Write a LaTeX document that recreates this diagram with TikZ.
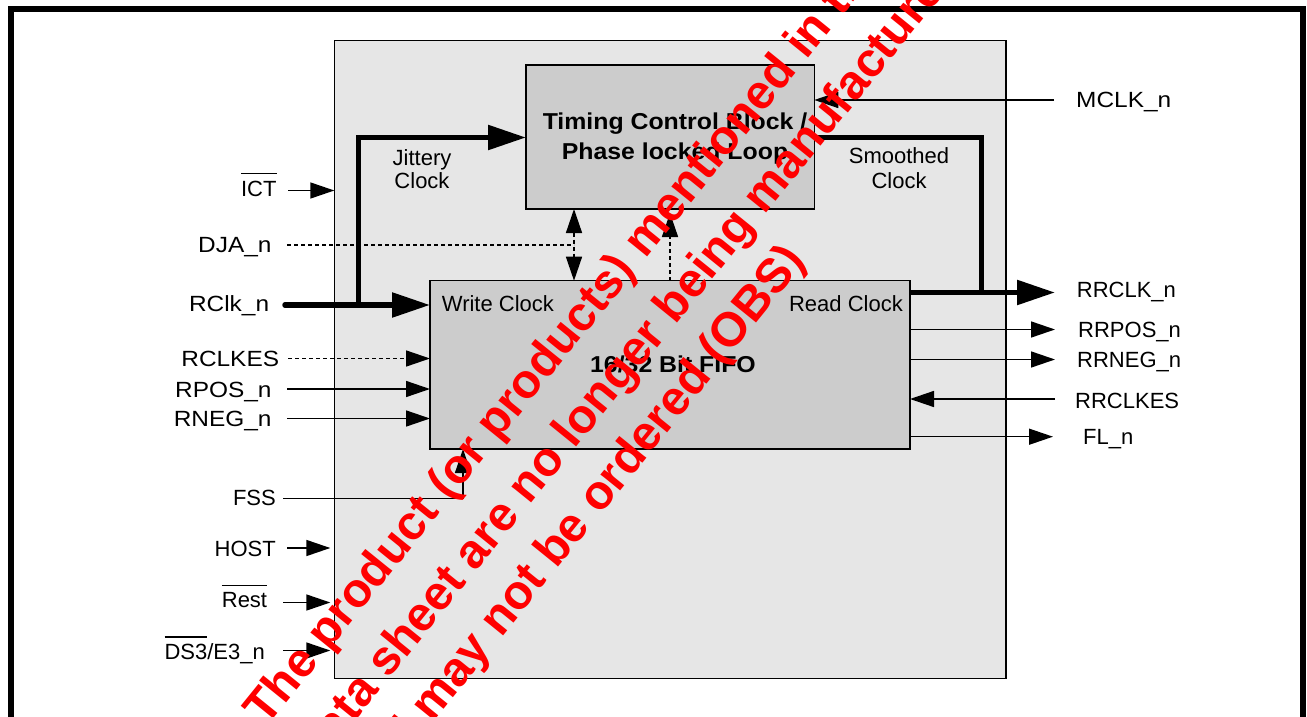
\documentclass[tikz,border=0pt]{standalone}
\usepackage{fontspec}
\setmainfont{Liberation Sans}
\newfontfamily\wfont[FakeStretch=1.11]{Liberation Sans}
\newfontfamily\bfont[FakeStretch=1.08]{Liberation Sans Bold}
\usetikzlibrary{arrows.meta,calc}
\newcommand\olin[1]{\setbox0\hbox{#1}\rlap{\rule[1.0em]{\wd0}{1.4pt}}\box0}
\definecolor{boxouter}{HTML}{E6E6E6}
\definecolor{boxinner}{HTML}{CCCCCC}
\tikzset{
 blk/.style={draw=black, line width=1.5pt, outer sep=0pt, inner sep=0pt, anchor=north west},
 lbl/.style={font=\fontsize{22}{24}\selectfont, inner sep=0pt, text height=15.8pt, text depth=0pt},
 lblw/.style={lbl, font=\wfont\fontsize{22}{24}\selectfont},
 bld/.style={font=\bfont\fontsize{23}{26}\selectfont, inner sep=0pt, text height=16.5pt, text depth=0pt},
 sig/.style={line width=1.5pt, -{Triangle[length=24pt,width=16pt]}},
 sigd/.style={sig, dash pattern=on 4pt off 3pt},
 dashl/.style={line width=1.5pt, dash pattern=on 4pt off 3pt},
 bus/.style={line width=5.5pt, -{Triangle[length=38pt,width=24pt]}},
 wm/.style={font=\fontsize{48}{52}\selectfont\bfseries, text=red, rotate=51, anchor=base west, inner sep=0pt},
}
\begin{document}
\begin{tikzpicture}[x=1pt,y=-1pt]
\useasboundingbox (0,0) rectangle (1307,717);
\clip (0,0) rectangle (1307,717);
\fill[white] (0,0) rectangle (1307,717);
% outer frame
\draw[line width=6pt] (11,740) -- (11,9) -- (1303,9) -- (1303,740);
% blocks
\node[blk, fill=boxouter, minimum width=671.7pt, minimum height=637.6pt] (main) at (334.3,40.7) {};
\node[blk, fill=boxinner, minimum width=288.3pt, minimum height=144pt] (timing) at (526,65) {};
\node[blk, fill=boxinner, minimum width=480pt, minimum height=168.3pt] (fifo) at (430,280.7) {};
% block texts
\node[bld] (tc1) at (675,121.7) {Timing Control Block /};
\node[bld] (tc2) at (675,151.7) {Phase locked Loop};
\node[bld] (ff) at (673,364.3) {16/32 Bit FIFO};
\node[lbl, anchor=west] (wc) at (441.7,303.3) {Write Clock};
\node[lbl, anchor=east] (rc) at (903,303.3) {Read Clock};
\node[lbl] (jit1) at (422,157.3) {Jittery};
\node[lbl] (jit2) at (422,180.5) {Clock};
\node[lbl] (sm1) at (899,155.5) {Smoothed};
\node[lbl] (sm2) at (899,180.5) {Clock};
% left labels
\node[lbl, anchor=east] (ict) at (276.7,188.3) {\olin{ICT}};
\node[lblw, anchor=east] (dja) at (271.7,245) {DJA\_n};
\node[lblw, anchor=east] (rclk) at (269.3,303.3) {RClk\_n};
\node[lblw, anchor=east] (rclkes) at (279.3,359) {RCLKES};
\node[lblw, anchor=east] (rpos) at (271.7,389.3) {RPOS\_n};
\node[lblw, anchor=east] (rneg) at (271.7,418.3) {RNEG\_n};
\node[lbl, anchor=east] (fss) at (276,497.7) {FSS};
\node[lbl, anchor=east] (host) at (276,549) {HOST};
\node[lbl, anchor=east] (rest) at (267.3,600) {\olin{Rest}};
\node[lbl, anchor=east] (ds3) at (265,651.7) {\olin{DS3}/E3\_n};
% right labels
\node[lblw, anchor=west] (mclk) at (1076,100) {MCLK\_n};
\node[lbl, anchor=west] (rrclk) at (1076.7,290) {RRCLK\_n};
\node[lbl, anchor=west] (rrpos) at (1078,330) {RRPOS\_n};
\node[lbl, anchor=west] (rrneg) at (1077,360) {RRNEG\_n};
\node[lbl, anchor=west] (rrclkes) at (1075,401) {RRCLKES};
\node[lbl, anchor=west] (fl) at (1083,437) {FL\_n};
% helper coordinates
\coordinate (rclkS) at (285,305);
\coordinate (jitB) at (358.5,307.5);
\coordinate (jitT) at (358.5,137.5);
\coordinate (smT) at (981.5,137.5);
\coordinate (smB) at (981.5,295);
\coordinate (rrclkE) at (1055,292.5);
\coordinate (mclkS) at (1054,100);
\coordinate (ictS) at (288,190.5);
\coordinate (djaS) at (287,245);
\coordinate (djaE) at (574,245);
\coordinate (colA) at (574,0);
\coordinate (colB) at (670,0);
\coordinate (colF) at (463,0);
\coordinate (rclkesS) at (288,358.5);
\coordinate (rposS) at (287,389);
\coordinate (rnegS) at (287,418.5);
\coordinate (fssS) at (283,498.3);
\coordinate (hostS) at (287,548);
\coordinate (restS) at (283,602.5);
\coordinate (dsS) at (283,650.5);
\coordinate (rrposE) at (1055,329.5);
\coordinate (rrnegE) at (1055,359.5);
\coordinate (rrclkesS) at (1055,399);
\coordinate (flE) at (1053,436.7);
% thick clock paths
\draw[bus, line cap=round] (rclkS) -- (fifo.west |- rclkS);
\draw[bus] (jitB) -- (jitT) -- (timing.west |- jitT);
\draw[line width=5.5pt] (timing.east |- smT) -- (smT) -- (smB);
\draw[bus] (fifo.east |- rrclkE) -- (rrclkE);
% signals
\draw[sig] (mclkS) -- (timing.east |- mclkS);
\draw[sig] (ictS) -- (main.west |- ictS);
\draw[dashl] (djaS) -- (djaE);
\draw[dashl, {Triangle[length=24pt,width=16pt]}-{Triangle[length=24pt,width=16pt]}] (timing.south -| colA) -- (fifo.north -| colA);
\draw[sigd, shorten >=4pt] (fifo.north -| colB) -- (timing.south -| colB);
\draw[sigd] (rclkesS) -- (fifo.west |- rclkesS);
\draw[sig] (rposS) -- (fifo.west |- rposS);
\draw[sig] (rnegS) -- (fifo.west |- rnegS);
\draw[sig] (fssS) -| (fifo.south -| colF);
\draw[sig, shorten >=4pt] (hostS) -- (main.west |- hostS);
\draw[sig, shorten >=4pt] (restS) -- (main.west |- restS);
\draw[sig, shorten >=4pt] (dsS) -- (main.west |- dsS);
\draw[sig] (fifo.east |- rrposE) -- (rrposE);
\draw[sig] (fifo.east |- rrnegE) -- (rrnegE);
\draw[sig] (rrclkesS) -- (fifo.east |- rrclkesS);
\draw[sig] (fifo.east |- flE) -- (flE);
% watermark
\node[wm] (wm1) at (266,728) {The product (or products) mentioned in this};
\node[wm] (wm2) at (318,767) {data sheet are no longer being manufactured};
\node[wm] (wm3) at (370,800) {and may not be ordered (OBS)};
\end{tikzpicture}
\end{document}
